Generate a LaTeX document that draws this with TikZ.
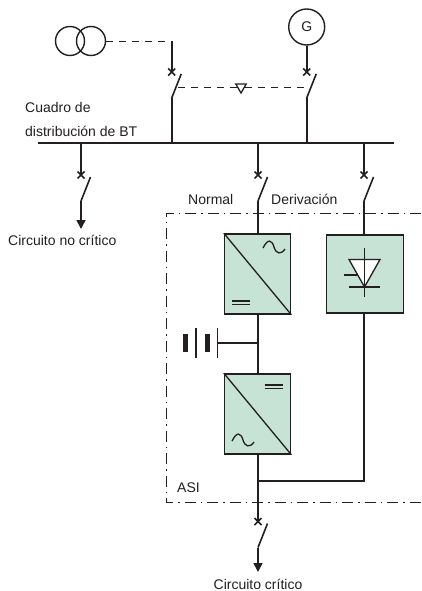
\documentclass[tikz,border=0pt]{standalone}
\usepackage{fontspec}
\setmainfont{Liberation Sans}
\usetikzlibrary{arrows.meta,shapes.misc,shapes.geometric}
\definecolor{upsgreen}{HTML}{C6E3D5}
\definecolor{inkline}{HTML}{231F20}
\tikzset{
	wire/.style={draw=inkline, line width=1.6pt},
	thinwire/.style={draw=inkline, line width=1.3pt},
	link/.style={draw=inkline, line width=0.8pt, dash pattern=on 7pt off 6pt},
	frameline/.style={draw=inkline, line width=0.8pt, dash pattern=on 11pt off 5pt on 1.5pt off 5pt},
	breaker/.style={cross out, draw=inkline, line width=1.5pt, inner sep=0pt, minimum size=5.5pt},
	feeder/.style={wire, -{Triangle[length=9pt,width=9pt]}},
	block/.style={draw=inkline, line width=1.6pt, fill=upsgreen, inner sep=0pt},
	source/.style={circle, draw=inkline, line width=1.4pt, inner sep=0pt},
	caption/.style={text=inkline, font=\fontsize{14}{16}\selectfont, inner sep=0pt}
}
\begin{document}
\begin{tikzpicture}[x=1pt,y=-1pt]
	\useasboundingbox (0,0) rectangle (421,591);
	% frame of the unit
	\coordinate (f-tr) at (421,213);
	\coordinate (f-tl) at (166,213);
	\coordinate (f-bl) at (166,502);
	\coordinate (f-br) at (421,502);
	\draw[frameline] (f-tr) -- (f-tl) -- (f-bl) -- (f-br);
	% busbar
	\coordinate (bus-l) at (38,143);
	\coordinate (bus-r) at (394,143);
	\draw[wire] (bus-l) -- (bus-r);
	% sources
	\node[source, minimum size=29pt] (tr-a) at (70,41) {};
	\node[source, minimum size=29pt] (tr-b) at (91,41) {};
	\node[source, caption, minimum size=36pt] (gen) at (306.7,27) {G};
	\coordinate (in-a) at (171.7,41);
	% switches
	\foreach \name/\x/\y in {sa/171.7/72, sg/306.7/72, sl/81/175, sn/258/175, sd/364/175, so/258/521.5}
	{
		\node[breaker] (\name-x) at (\x,\y) {};
		\coordinate (\name-t) at (\x+9.5,\y+2);
		\coordinate (\name-b) at (\x,\y+26);
		\draw[wire] (\name-t) -- (\name-b);
	}
	\coordinate (sa-bus) at (171.7,143);
	\coordinate (sg-bus) at (306.7,143);
	\coordinate (sl-bus) at (81,143);
	\coordinate (sn-bus) at (258,143);
	\coordinate (sd-bus) at (364,143);
	\draw[link] (tr-b) -- (in-a);
	\draw[wire] (in-a) -- (sa-x.center);
	\draw[wire] (gen) -- (sg-x.center);
	\draw[wire] (sa-b) -- (sa-bus);
	\draw[wire] (sg-b) -- (sg-bus);
	\draw[wire] (sl-bus) -- (sl-x.center);
	\draw[wire] (sn-bus) -- (sn-x.center);
	\draw[wire] (sd-bus) -- (sd-x.center);
	% interlock
	\coordinate (lock-a) at (178,87);
	\coordinate (lock-b) at (304,87);
	\node[isosceles triangle, isosceles triangle apex angle=60, shape border rotate=-90, draw=inkline, line width=1.3pt, fill=white, minimum height=9pt, inner sep=0pt] (lock) at (241,87) {};
	\draw[link] (lock-a) -- (lock);
	\draw[link] (lock) -- (lock-b);
	% blocks
	\node[block, minimum width=66pt, minimum height=80pt] (rect) at (257.6,274) {};
	\node[block, minimum width=77pt, minimum height=78pt] (stat) at (365,274) {};
	\node[block, minimum width=66pt, minimum height=80pt] (inv) at (257.6,414) {};
	\draw[thinwire] (rect.north west) -- (rect.south east);
	\draw[thinwire] (inv.north west) -- (inv.south east);
	% ac and dc signs
	\draw[thinwire] (263,248) .. controls (268,238) and (272,240) .. (274,247) .. controls (276,254) and (281,255) .. (285,249);
	\draw[thinwire] (232,441) .. controls (237,431) and (241,433) .. (243,440) .. controls (245,447) and (250,448) .. (254,442);
	\foreach \x/\y in {232/301, 232/304.5, 264.5/385, 264.5/388.5}
		\draw[thinwire] (\x,\y) -- ++(18,0);
	% static switch
	\draw[thinwire, fill=white] (349,259.5) -- (380,259.5) -- (364.5,287) -- cycle;
	\draw[thinwire] (364.5,248) -- (364.5,297);
	\draw[thinwire] (349,287) -- (380,287);
	\draw[thinwire] (344,275) -- (357,275);
	% battery
	\coordinate (bat-j) at (258,343);
	\coordinate (bat-p) at (217.5,343);
	\draw[thinwire] (bat-j) -- (bat-p);
	\draw[thinwire] (217.5,328) -- (217.5,358);
	\draw[draw=inkline, line width=5pt] (207.7,334) -- (207.7,352);
	\draw[thinwire] (196,328) -- (196,358);
	\draw[draw=inkline, line width=5pt] (185,334) -- (185,352);
	% wiring of the unit
	\coordinate (out-j) at (258,481);
	\coordinate (stat-c) at (364,481);
	\draw[wire] (sn-b) -- (rect.north -| sn-b);
	\draw[wire] (sd-b) -- (stat.north -| sd-b);
	\draw[wire] (rect.south -| sn-b) -- (inv.north -| sn-b);
	\draw[wire] (inv.south -| sn-b) -- (out-j) -- (so-x.center);
	\draw[wire] (stat.south -| sd-b) -- (stat-c) -- (out-j);
	% outgoing
	\coordinate (tip-l) at (81,229);
	\coordinate (tip-o) at (258,572);
	\draw[feeder] (sl-b) -- (tip-l);
	\draw[feeder] (so-b) -- (tip-o);
	% texts
	\node[caption, anchor=base west] (t-cuadro) at (25,113) {Cuadro de};
	\node[caption, anchor=base west] (t-dist) at (25,136) {distribución de BT};
	\node[caption, anchor=base west] (t-normal) at (188,204) {Normal};
	\node[caption, anchor=base west] (t-deriv) at (271,204) {Derivación};
	\node[caption, anchor=base west] (t-nocrit) at (8,245) {Circuito no crítico};
	\node[caption, anchor=base west] (t-asi) at (177,492) {ASI};
	\node[caption, anchor=base] (t-crit) at (258,589) {Circuito crítico};
\end{tikzpicture}
\end{document}
